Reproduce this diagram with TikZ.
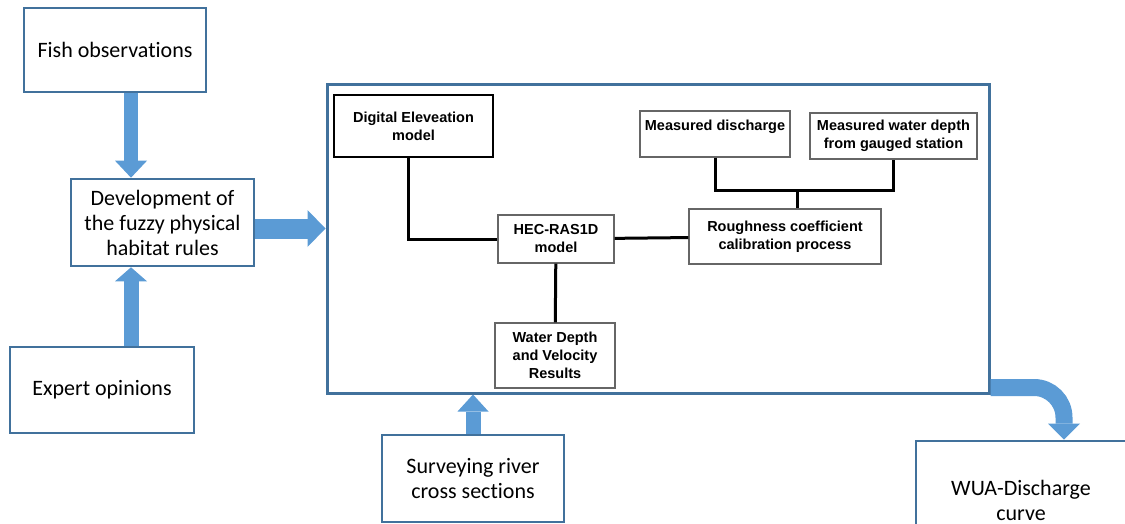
\documentclass[tikz,border=0pt]{standalone}
\usepackage{fontspec}
\setmainfont{Carlito}[Ligatures=NoCommon]
\newfontfamily\innerfont{Liberation Sans}
\usepackage{tikz}
\usetikzlibrary{arrows.meta}
\definecolor{boxblue}{RGB}{65,113,156}
\definecolor{arrowblue}{RGB}{91,155,213}
\tikzset{
	% Outer boxes are blue, the boxes of the model are grey; arrows are fat and blue
	blue box/.style={draw=boxblue,line width=2.6pt,fill=white,inner sep=0pt,align=center,font=\fontsize{22}{25}\selectfont},
	inner box/.style={draw=black!60,line width=1.4pt,fill=white,inner sep=0pt,align=center,font=\innerfont\bfseries\fontsize{14.5}{18}\selectfont},
	fat arrow/.style n args={3}{draw=arrowblue,line width=#1,-{Triangle[width=#2,length=#3,line width=0pt]}},
	link/.style={draw=black,line width=3pt}
}

\begin{document}
\begin{tikzpicture}[x=1pt,y=-1pt]
			\useasboundingbox (0,0) rectangle (1125,524);
			\clip (0,0) rectangle (1125,524);
			
			% Boxes outside the model
			\node[blue box,minimum width=182pt,minimum height=84pt] (fish) at (115,50) {Fish observations};
			\node[blue box,minimum width=183pt,minimum height=87pt] (devel) at (162.5,222.5) {Development of\\the fuzzy physical\\habitat rules};
			\node[blue box,minimum width=184pt,minimum height=86pt] (expert) at (102,390) {Expert opinions};
			\node[blue box,minimum width=182pt,minimum height=87pt] (survey) at (473,478.5) {Surveying river\\cross sections};
			\node[blue box,minimum width=210pt,minimum height=118pt] (wua) at (1021,500) {WUA-Discharge\\curve};
			\node[draw=boxblue,line width=3pt,inner sep=0pt,minimum width=662pt,minimum height=308pt] (simbox) at (658,239) {};
			
			% Boxes inside the model
			\node[inner box,draw=black,line width=2.2pt,minimum width=159pt,minimum height=62pt] (dem) at (413.5,126) {Digital Eleveation\\model};
			\node[inner box,minimum width=116pt,minimum height=48pt] (hec) at (556,239) {HEC-RAS1D\\model};
			\node[inner box,minimum width=120pt,minimum height=65pt] (water) at (555,355.5) {Water Depth\\and Velocity\\Results};
			\node[inner box,minimum width=150pt,minimum height=46pt] (meas) at (715,134) {Measured discharge\\\mbox{}};
			\node[inner box,minimum width=167pt,minimum height=46pt] (gauge) at (893.5,136) {Measured water depth\\from gauged station};
			\node[inner box,minimum width=192pt,minimum height=55pt] (rough) at (785,236.5) {Roughness coefficient\\calibration process};
			\coordinate (join) at (797,191);
			
			\draw[link] ([xshift=-5pt]dem.south) |- (hec.west);
			\draw[link] (hec) -- (rough);
			\draw[link] (hec) -- (water);
			\draw[link] (meas.south) |- (join) -| (gauge.south);
			\draw[link] (join) -- (join |- rough.north);
			
			% Blue arrows
			\draw[fat arrow={14pt}{32pt}{17pt}] ([xshift=16pt]fish.south) -- ([xshift=-31.5pt]devel.north);
			\draw[fat arrow={15pt}{32pt}{14pt}] ([xshift=29pt]expert.north) -- ([xshift=-31.5pt]devel.south);
			\coordinate (devout) at ([yshift=-6pt]devel.east);
			\draw[fat arrow={20pt}{37pt}{18pt}] (devout) -- (devout -| simbox.west);
			\draw[fat arrow={15pt}{31pt}{17pt}] (survey.north) -- (survey.north |- simbox.south);
			\draw[fat arrow={17pt}{32pt}{16pt},rounded corners=30pt] ([yshift=7pt]simbox.south east) -| ([xshift=43pt]wua.north);
		\end{tikzpicture}
\end{document}
